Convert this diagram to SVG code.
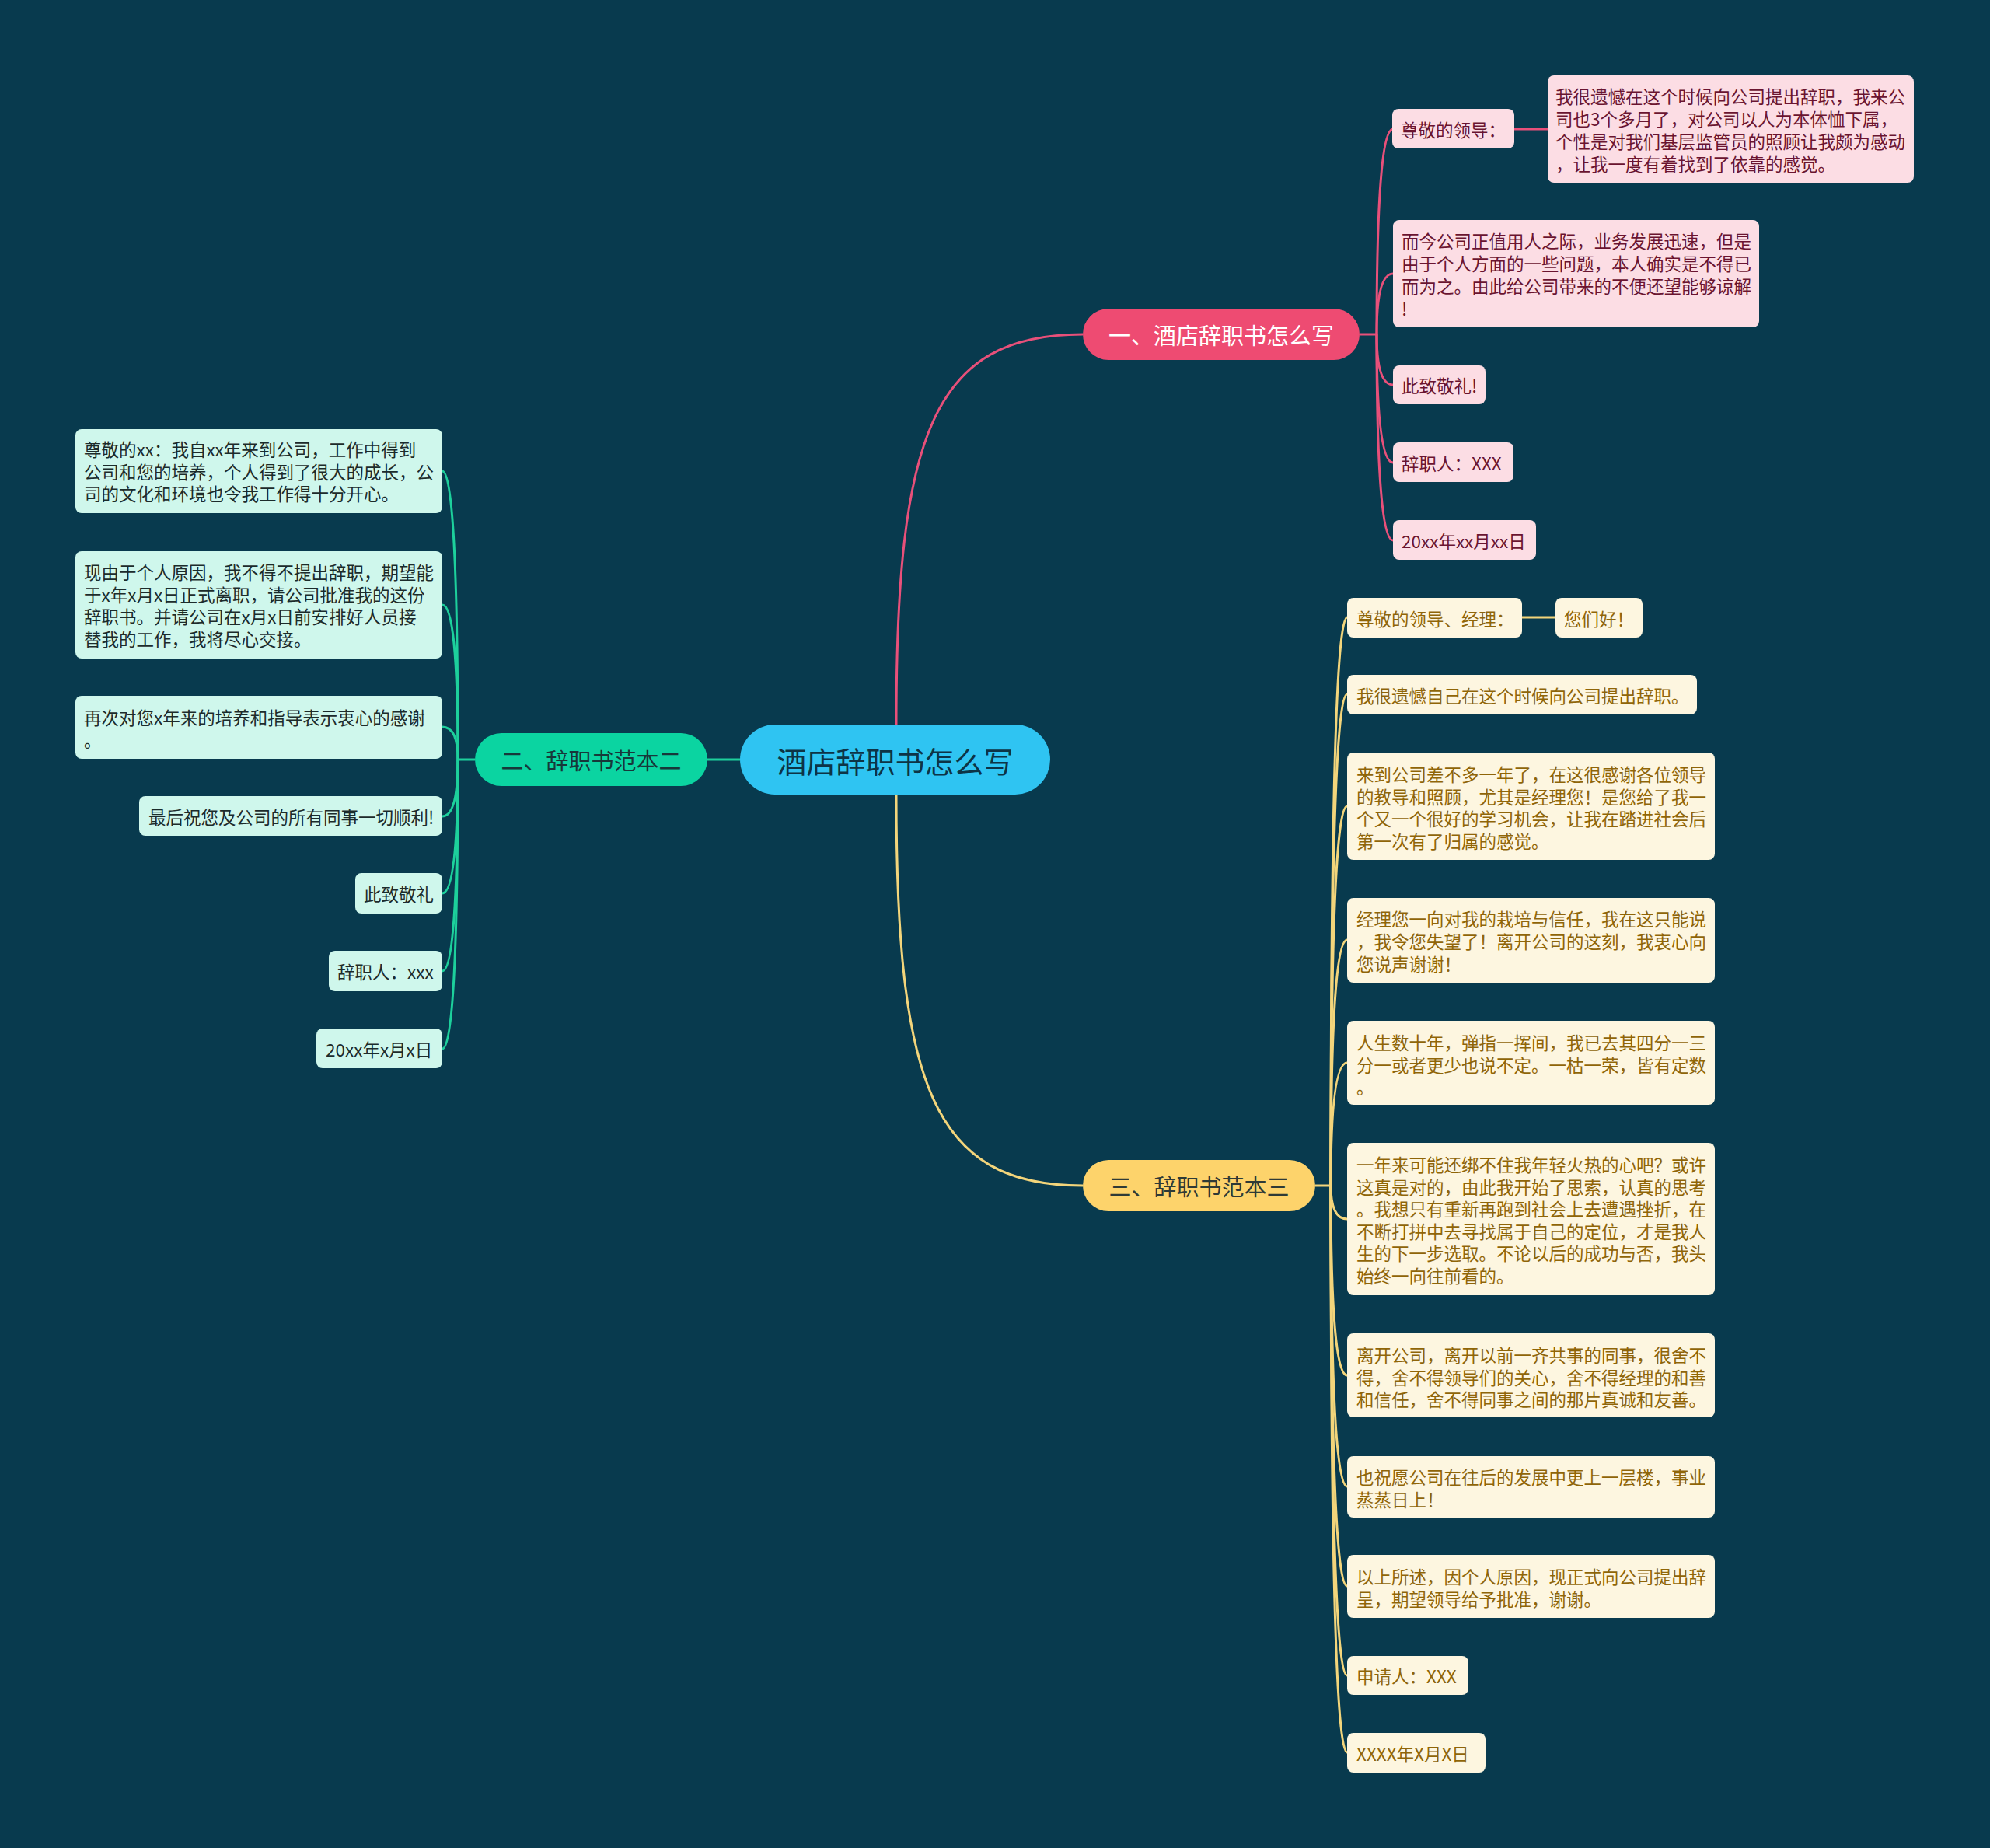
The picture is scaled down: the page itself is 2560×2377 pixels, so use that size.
<svg xmlns="http://www.w3.org/2000/svg" width="2560" height="2377" viewBox="0 0 2560 2377">
<style>
text{font-family:"Noto Sans CJK SC","Noto Sans",sans-serif;dominant-baseline:central}
.c{font-size:22.5px}
.pk rect{fill:#fcdde4}
.pk text{fill:#6a1430}
.gr rect{fill:#cff7ec}
.gr text{fill:#1c2b2b}
.ye rect{fill:#fdf6e0}
.ye text{fill:#8f6508}
.lp{fill:none;stroke:#e8507a;stroke-width:3}
.lg{fill:none;stroke:#1dd09c;stroke-width:3}
.ly{fill:none;stroke:#f3d57b;stroke-width:3}
.b{font-size:29px;text-anchor:middle}
</style>
<rect width="2560" height="2377" fill="#083a4e"/>
<g id="connectors">
<path class="lp" d="M1153,932 C1153,560 1200,430 1393,430" stroke-width="3.5"/>
<path class="ly" d="M1153,1022 C1153,1395 1200,1525 1393,1525" stroke-width="3.5"/>
<path class="lg" d="M952,977 L910,977" stroke-width="3.5"/>
<path class="lp" d="M1749,430 L1771,430"/>
<path class="lp" d="M1771,430 Q1771,166 1792,166"/>
<path class="lp" d="M1771,430 Q1771,352 1792,352"/>
<path class="lp" d="M1771,430 Q1771,495 1792,495"/>
<path class="lp" d="M1771,430 Q1771,595 1792,595"/>
<path class="lp" d="M1771,430 Q1771,695 1792,695"/>
<path class="lp" d="M1948,166 L1991,166"/>
<path class="lg" d="M611,977 L589,977"/>
<path class="lg" d="M589,977 Q589,606 569,606"/>
<path class="lg" d="M589,977 Q589,778 569,778"/>
<path class="lg" d="M589,977 Q589,935 569,935"/>
<path class="lg" d="M589,977 Q589,1050 569,1050"/>
<path class="lg" d="M589,977 Q589,1149 569,1149"/>
<path class="lg" d="M589,977 Q589,1249 569,1249"/>
<path class="lg" d="M589,977 Q589,1349 569,1349"/>
<path class="ly" d="M1692,1525 L1712,1525"/>
<path class="ly" d="M1712,1525 Q1712,794 1733,794"/>
<path class="ly" d="M1712,1525 Q1712,893 1733,893"/>
<path class="ly" d="M1712,1525 Q1712,1037 1733,1037"/>
<path class="ly" d="M1712,1525 Q1712,1209 1733,1209"/>
<path class="ly" d="M1712,1525 Q1712,1367 1733,1367"/>
<path class="ly" d="M1712,1525 Q1712,1568 1733,1568"/>
<path class="ly" d="M1712,1525 Q1712,1769 1733,1769"/>
<path class="ly" d="M1712,1525 Q1712,1912 1733,1912"/>
<path class="ly" d="M1712,1525 Q1712,2040 1733,2040"/>
<path class="ly" d="M1712,1525 Q1712,2155 1733,2155"/>
<path class="ly" d="M1712,1525 Q1712,2254 1733,2254"/>
<path class="ly" d="M1958,794 L2001,794"/>
</g>
<g id="root">
<rect x="952" y="932" width="399" height="90" rx="45" fill="#2fc4f2"/>
<text x="1151.5" y="977" font-size="38" text-anchor="middle" fill="#0d3446">酒店辞职书怎么写</text>
</g>
<g id="b1">
<rect x="1393" y="397" width="356" height="66" rx="33" fill="#ee4b72"/>
<text class="b" x="1571" y="430" fill="#ffffff">一、酒店辞职书怎么写</text>
</g>
<g id="b2">
<rect x="611" y="943" width="299" height="68" rx="34" fill="#0bd4a1"/>
<text class="b" x="760.5" y="977" fill="#17383a">二、辞职书范本二</text>
</g>
<g id="b3">
<rect x="1393" y="1492" width="299" height="66" rx="33" fill="#fdd36b"/>
<text class="b" x="1542.5" y="1525" fill="#2f3a36">三、辞职书范本三</text>
</g>
<g id="p1" class="pk c"><rect x="1791" y="140" width="157" height="51" rx="8"/><text x="1802" y="166">尊敬的领导：</text></g>
<g id="p1a" class="pk c"><rect x="1991" y="97" width="471" height="138" rx="8"/>
<text x="2001" y="123">我很遗憾在这个时候向公司提出辞职，我来公</text>
<text x="2001" y="152">司也3个多月了，对公司以人为本体恤下属，</text>
<text x="2001" y="181">个性是对我们基层监管员的照顾让我颇为感动</text>
<text x="2001" y="210">，让我一度有着找到了依靠的感觉。</text></g>
<g id="p2" class="pk c"><rect x="1792" y="283" width="471" height="138" rx="8"/>
<text x="1803" y="309">而今公司正值用人之际，业务发展迅速，但是</text>
<text x="1803" y="338">由于个人方面的一些问题，本人确实是不得已</text>
<text x="1803" y="367">而为之。由此给公司带来的不便还望能够谅解</text>
<text x="1803" y="396">!</text></g>
<g id="p3" class="pk c"><rect x="1792" y="470" width="119" height="50" rx="8"/><text x="1803" y="495">此致敬礼!</text></g>
<g id="p4" class="pk c"><rect x="1792" y="569" width="155" height="51" rx="8"/><text x="1803" y="595">辞职人：XXX</text></g>
<g id="p5" class="pk c"><rect x="1792" y="669" width="184" height="51" rx="8"/><text x="1803" y="695">20xx年xx月xx日</text></g>
<g id="g1" class="gr c"><rect x="97" y="552" width="472" height="108" rx="8"/>
<text x="108" y="577">尊敬的xx：我自xx年来到公司，工作中得到</text>
<text x="108" y="606">公司和您的培养，个人得到了很大的成长，公</text>
<text x="108" y="634">司的文化和环境也令我工作得十分开心。</text></g>
<g id="g2" class="gr c"><rect x="97" y="709" width="472" height="138" rx="8"/>
<text x="108" y="735">现由于个人原因，我不得不提出辞职，期望能</text>
<text x="108" y="764">于x年x月x日正式离职，请公司批准我的这份</text>
<text x="108" y="792">辞职书。并请公司在x月x日前安排好人员接</text>
<text x="108" y="821">替我的工作，我将尽心交接。</text></g>
<g id="g3" class="gr c"><rect x="97" y="895" width="472" height="81" rx="8"/>
<text x="108" y="922">再次对您x年来的培养和指导表示衷心的感谢</text>
<text x="108" y="951">。</text></g>
<g id="g4" class="gr c"><rect x="179" y="1024" width="390" height="51" rx="8"/><text x="191" y="1050">最后祝您及公司的所有同事一切顺利!</text></g>
<g id="g5" class="gr c"><rect x="457" y="1123" width="112" height="52" rx="8"/><text x="468" y="1149">此致敬礼</text></g>
<g id="g6" class="gr c"><rect x="423" y="1223" width="146" height="52" rx="8"/><text x="434" y="1249">辞职人：xxx</text></g>
<g id="g7" class="gr c"><rect x="407" y="1323" width="162" height="51" rx="8"/><text x="419" y="1349">20xx年x月x日</text></g>
<g id="y1" class="ye c"><rect x="1733" y="769" width="225" height="51" rx="8"/><text x="1745" y="794.5">尊敬的领导、经理：</text></g>
<g id="y1a" class="ye c"><rect x="2001" y="769" width="112" height="51" rx="8"/><text x="2012" y="794.5">您们好！</text></g>
<g id="y2" class="ye c"><rect x="1733" y="868" width="450" height="51" rx="8"/><text x="1745" y="893.5">我很遗憾自己在这个时候向公司提出辞职。</text></g>
<g id="y3" class="ye c"><rect x="1733" y="968" width="473" height="138" rx="8"/>
<text x="1745" y="995">来到公司差不多一年了，在这很感谢各位领导</text>
<text x="1745" y="1024">的教导和照顾，尤其是经理您！是您给了我一</text>
<text x="1745" y="1052">个又一个很好的学习机会，让我在踏进社会后</text>
<text x="1745" y="1081">第一次有了归属的感觉。</text></g>
<g id="y4" class="ye c"><rect x="1733" y="1155" width="473" height="109" rx="8"/>
<text x="1745" y="1181">经理您一向对我的栽培与信任，我在这只能说</text>
<text x="1745" y="1210">，我令您失望了！离开公司的这刻，我衷心向</text>
<text x="1745" y="1239">您说声谢谢！</text></g>
<g id="y5" class="ye c"><rect x="1733" y="1313" width="473" height="108" rx="8"/>
<text x="1745" y="1340">人生数十年，弹指一挥间，我已去其四分一三</text>
<text x="1745" y="1369">分一或者更少也说不定。一枯一荣，皆有定数</text>
<text x="1745" y="1397">。</text></g>
<g id="y6" class="ye c"><rect x="1733" y="1470" width="473" height="196" rx="8"/>
<text x="1745" y="1497">一年来可能还绑不住我年轻火热的心吧？或许</text>
<text x="1745" y="1526">这真是对的，由此我开始了思索，认真的思考</text>
<text x="1745" y="1554">。我想只有重新再跑到社会上去遭遇挫折，在</text>
<text x="1745" y="1583">不断打拼中去寻找属于自己的定位，才是我人</text>
<text x="1745" y="1611">生的下一步选取。不论以后的成功与否，我头</text>
<text x="1745" y="1640">始终一向往前看的。</text></g>
<g id="y7" class="ye c"><rect x="1733" y="1715" width="473" height="108" rx="8"/>
<text x="1745" y="1742">离开公司，离开以前一齐共事的同事，很舍不</text>
<text x="1745" y="1771">得，舍不得领导们的关心，舍不得经理的和善</text>
<text x="1745" y="1799">和信任，舍不得同事之间的那片真诚和友善。</text></g>
<g id="y8" class="ye c"><rect x="1733" y="1873" width="473" height="79" rx="8"/>
<text x="1745" y="1899">也祝愿公司在往后的发展中更上一层楼，事业</text>
<text x="1745" y="1928">蒸蒸日上！</text></g>
<g id="y9" class="ye c"><rect x="1733" y="2000" width="473" height="81" rx="8"/>
<text x="1745" y="2027">以上所述，因个人原因，现正式向公司提出辞</text>
<text x="1745" y="2056">呈，期望领导给予批准，谢谢。</text></g>
<g id="y10" class="ye c"><rect x="1733" y="2130" width="156" height="50" rx="8"/><text x="1745" y="2155">申请人：XXX</text></g>
<g id="y11" class="ye c"><rect x="1733" y="2229" width="178" height="51" rx="8"/><text x="1745" y="2254.5">XXXX年X月X日</text></g>
</svg>
